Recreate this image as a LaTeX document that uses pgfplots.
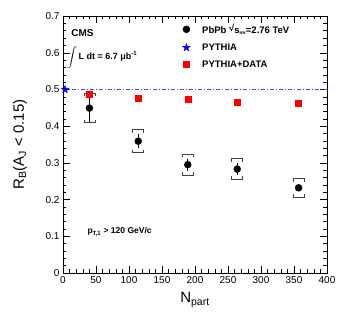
\documentclass[border=0pt]{standalone}
\usepackage{fontspec}
\setmainfont{Liberation Sans}
\usepackage{pgfplots}
\pgfplotsset{compat=1.18}
\usepackage{pgfplotstable}

% sys. brackets, top and bottom halves
\pgfdeclareplotmark{bracketup}{%
  \pgfpathmoveto{\pgfqpoint{-\pgfplotmarksize}{-0.55\pgfplotmarksize}}%
  \pgfpathlineto{\pgfqpoint{-\pgfplotmarksize}{0pt}}%
  \pgfpathlineto{\pgfqpoint{\pgfplotmarksize}{0pt}}%
  \pgfpathlineto{\pgfqpoint{\pgfplotmarksize}{-0.55\pgfplotmarksize}}%
  \pgfusepathqstroke}
\pgfdeclareplotmark{bracketdown}{%
  \pgfpathmoveto{\pgfqpoint{-\pgfplotmarksize}{0.55\pgfplotmarksize}}%
  \pgfpathlineto{\pgfqpoint{-\pgfplotmarksize}{0pt}}%
  \pgfpathlineto{\pgfqpoint{\pgfplotmarksize}{0pt}}%
  \pgfpathlineto{\pgfqpoint{\pgfplotmarksize}{0.55\pgfplotmarksize}}%
  \pgfusepathqstroke}
% filled five-pointed star
\pgfdeclareplotmark{fstar}{%
  \pgfpathmoveto{\pgfqpointpolar{90}{\pgfplotmarksize}}%
  \pgfpathlineto{\pgfqpointpolar{126}{0.4\pgfplotmarksize}}%
  \pgfpathlineto{\pgfqpointpolar{162}{\pgfplotmarksize}}%
  \pgfpathlineto{\pgfqpointpolar{198}{0.4\pgfplotmarksize}}%
  \pgfpathlineto{\pgfqpointpolar{234}{\pgfplotmarksize}}%
  \pgfpathlineto{\pgfqpointpolar{270}{0.4\pgfplotmarksize}}%
  \pgfpathlineto{\pgfqpointpolar{306}{\pgfplotmarksize}}%
  \pgfpathlineto{\pgfqpointpolar{342}{0.4\pgfplotmarksize}}%
  \pgfpathlineto{\pgfqpointpolar{18}{\pgfplotmarksize}}%
  \pgfpathlineto{\pgfqpointpolar{54}{0.4\pgfplotmarksize}}%
  \pgfpathclose\pgfusepathqfillstroke}

% Npart, R_B, stat, sys, PYTHIA+DATA
\pgfplotstableread{
x    y      stat   sys    pd
40   0.449  0.040  0.040  0.488
114  0.359  0.019  0.031  0.476
189  0.295  0.016  0.029  0.474
264  0.283  0.016  0.028  0.466
357  0.232  0.010  0.025  0.462
}\rbdata

\begin{document}
\begin{tikzpicture}
\begin{axis}[
  scale only axis,
  width=264pt, height=257pt,
  xmin=0, xmax=400, ymin=0, ymax=0.7,
  xtick={0,50,...,400},
  ytick={0,0.1,0.2,0.3,0.4,0.5,0.6,0.7},
  minor x tick num=4, minor y tick num=4,
  tick align=inside,
  major tick length=7pt, minor tick length=3.5pt,
  every tick/.style={black, line width=0.4pt},
  tick label style={font=\fontsize{10}{12}\selectfont},
  /pgf/number format/assume math mode=true,
  yticklabel style={/pgf/number format/fixed, /pgf/number format/precision=1},
  xlabel={N\textsubscript{part}},
  ylabel={R\textsubscript{B}(A\textsubscript{J} < 0.15)},
  label style={font=\fontsize{15}{18}\selectfont},
  xlabel style={at={(axis description cs:0.5,0)}, anchor=north, yshift=-16pt},
  ylabel style={at={(axis description cs:0,0.5)}, anchor=center, rotate=0, yshift=43pt},
  legend style={draw=none, fill=none, at={(rel axis cs:0.441,0.985)}, anchor=north west,
    font=\bfseries\fontsize{9.5}{11}\selectfont, row sep=5pt, column sep=10pt},
  legend cell align=left,
  clip=false,
]
% PYTHIA reference line
\addplot[color={rgb,255:red,70;green,70;blue,255}, line width=0.5pt,
  dash pattern=on 4pt off 2pt on 1pt off 2pt, forget plot]
  coordinates {(0,0.5) (400,0.5)};
% systematic brackets
\addplot[only marks, mark=bracketup, mark size=5.5pt, black!75, line width=0.7pt, forget plot]
  table[x=x, y expr=\thisrow{y}+\thisrow{sys}] {\rbdata};
\addplot[only marks, mark=bracketdown, mark size=5.5pt, black!75, line width=0.7pt, forget plot]
  table[x=x, y expr=\thisrow{y}-\thisrow{sys}] {\rbdata};
% data
\addplot[only marks, mark=*, mark size=3.5pt, black,
  error bars/.cd, y dir=both, y explicit, error mark=none,
  error bar style={line width=0.5pt, black}]
  table[x=x, y=y, y error=stat] {\rbdata};
\addlegendentry{PbPb \raisebox{0.3ex}{√}s\textsubscript{\fontsize{4}{4}\selectfont NN}=2.76 TeV}
\addplot[only marks, mark=fstar, mark size=4pt, blue] coordinates {(3,0.5)};
\addlegendentry{PYTHIA}
\addplot[only marks, mark=square*, mark size=3pt, red] table[x=x, y=pd] {\rbdata};
\addlegendentry{PYTHIA+DATA}
% annotations
\node[anchor=west, font=\bfseries\fontsize{10}{12}\selectfont] at (rel axis cs:0.018,0.935) {CMS};
\node[anchor=west, font=\bfseries\fontsize{9}{11}\selectfont, inner sep=0pt] at (rel axis cs:0.015,0.84)
  {$\displaystyle\int$\,L dt = 6.7 μb\textsuperscript{-1}};
\node[anchor=west, font=\bfseries\fontsize{8.5}{10}\selectfont] at (rel axis cs:0.08,0.16)
  {p\textsubscript{T,1} > 120 GeV/c};
\end{axis}
\pgfresetboundingbox
\path (-63pt,-50pt) rectangle (277pt,273pt);
\end{tikzpicture}
\end{document}
